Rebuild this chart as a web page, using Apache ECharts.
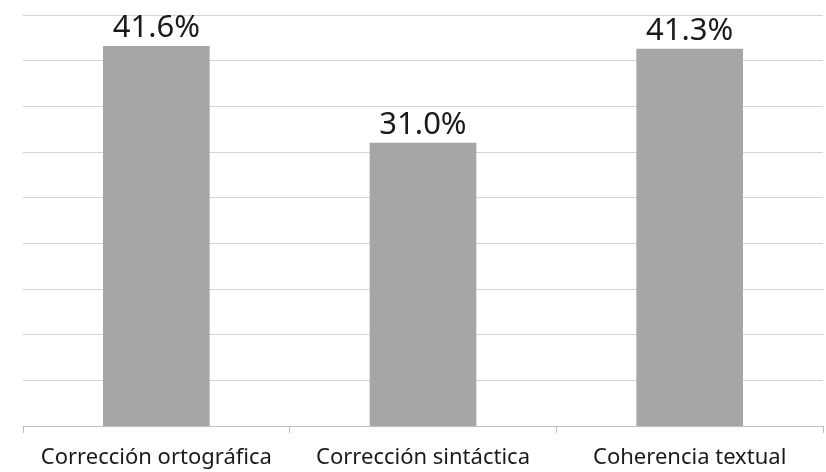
<!DOCTYPE html>
<html>
<head>
<meta charset="utf-8">
<script src="https://cdn.jsdelivr.net/npm/echarts@6/dist/echarts.min.js"></script>
<style>html,body{margin:0;padding:0;background:#fff;}#c{width:826px;height:472px;}</style>
</head>
<body>
<div id="c"></div>
<script>
const categories = ["Corrección ortográfica", "Corrección sintáctica", "Coherencia textual"];
const values = [41.6, 31.0, 41.3];
const yMin = 0, yMax = 45, yStep = 5;

const chart = echarts.init(document.getElementById('c'), null, {renderer: 'canvas'});
chart.setOption({
  animation: false,
  backgroundColor: '#ffffff',
  grid: {left: 23, right: 3, top: 15, bottom: 46, containLabel: false},
  xAxis: {
    type: 'category',
    data: categories,
    axisLine: {lineStyle: {color: '#bfbfbf', width: 1}},
    axisTick: {show: true, length: 7, lineStyle: {color: '#bfbfbf'}},
    axisLabel: {color: '#1a1a1a', fontFamily: 'Noto Sans', fontSize: 22, margin: 21, interval: 0, hideOverlap: false}
  },
  yAxis: {
    type: 'value',
    min: yMin, max: yMax, interval: yStep,
    axisLine: {show: false},
    axisTick: {show: false},
    axisLabel: {show: false},
    splitLine: {lineStyle: {color: '#d4d4d4', width: 1}}
  },
  series: [{
    type: 'bar',
    data: values,
    barWidth: '40%',
    itemStyle: {color: '#a6a6a6'},
    label: {
      show: true,
      position: 'top',
      distance: 2,
      color: '#1a1a1a',
      fontFamily: 'Noto Sans',
      fontSize: 31,
      formatter: p => p.value.toFixed(1) + '%'
    }
  }]
});
</script>
</body>
</html>
